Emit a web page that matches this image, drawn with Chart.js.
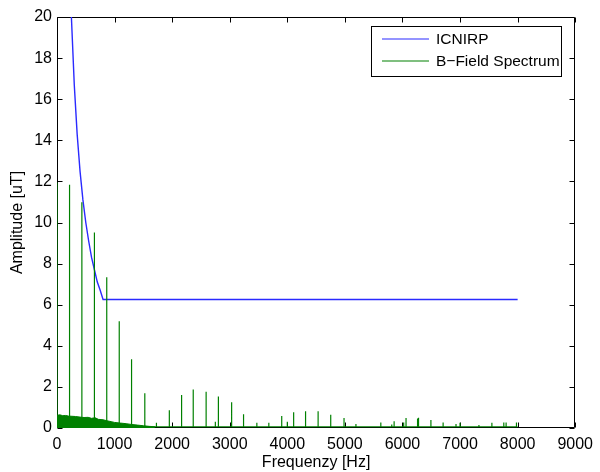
<!DOCTYPE html>
<html>
<head>
<meta charset="utf-8">
<script src="https://cdn.jsdelivr.net/npm/chart.js@4/dist/chart.umd.min.js"></script>
<style>
  html, body { margin: 0; padding: 0; background: #fff; }
  #wrap { width: 600px; height: 472px; }
</style>
</head>
<body>
<div id="wrap"><canvas id="spectrumChart"></canvas></div>
<script>
// ICNIRP reference level curve
const icnirpFreq = [245, 250, 300, 350, 400, 450, 500, 550, 600, 650, 700, 750, 800, 8000];
const icnirpAmp = [20.4, 20.0, 16.7, 14.3, 12.5, 11.1, 10.0, 9.1, 8.3, 7.7, 7.1, 6.7, 6.25, 6.25];

// B-field spectrum: harmonic peaks
const peakFreq = [0, 218, 432, 650, 864, 1081, 1295, 1525, 1727, 1951, 2164, 2366, 2590, 2750, 2803, 3033,
  3240, 3471, 3679, 3903, 4000, 4110, 4317, 4535, 4754, 4985, 5192, 5624, 5814, 5855, 6021, 6062,
  6262, 6279, 6494, 6706, 6930, 7000, 7328, 7553, 7760, 7800, 7980];
const peakAmp = [11.95, 11.84, 10.98, 9.51, 7.34, 5.2, 3.35, 1.69, 0.25, 0.86, 1.6, 1.87, 1.76, 0.3, 1.53, 1.25,
  0.67, 0.25, 0.25, 0.59, 0.3, 0.77, 0.81, 0.81, 0.64, 0.49, 0.2, 0.27, 0.17, 0.33, 0.27, 0.49,
  0.46, 0.5, 0.39, 0.27, 0.2, 0.25, 0.15, 0.25, 0.27, 0.27, 0.27];
const floorAmp = 0.06;
const spectrumEnd = 8000;

// low-frequency noise floor envelope
const noiseFreq = [0, 50, 100, 150, 200, 260, 320, 400, 470, 540, 600, 660, 720, 800, 870, 940, 1000, 1100, 1200, 1300, 1400, 1500, 1600, 1700];
const noiseAmp = [0.62, 0.64, 0.6, 0.61, 0.58, 0.57, 0.56, 0.53, 0.51, 0.52, 0.47, 0.5, 0.42, 0.4, 0.35, 0.31, 0.27, 0.24, 0.21, 0.17, 0.14, 0.11, 0.08, 0.06];

const xTicks = [0, 1000, 2000, 3000, 4000, 5000, 6000, 7000, 8000, 9000];
const yTicks = [0, 2, 4, 6, 8, 10, 12, 14, 16, 18, 20];

const BLUE = '#2a2aff';
const GREEN = '#008000';
const FONT = 'Liberation Sans, Arial, Helvetica, sans-serif';

const icnirpData = icnirpFreq.map((f, i) => ({ x: f, y: icnirpAmp[i] }));
const noiseData = noiseFreq.map((f, i) => ({ x: f, y: noiseAmp[i] }));
const spikeData = [];
peakFreq.forEach((f, i) => {
  spikeData.push({ x: f, y: floorAmp }, { x: f, y: peakAmp[i] }, { x: f, y: floorAmp });
});
spikeData.push({ x: spectrumEnd, y: floorAmp });

// MATLAB-style box with inward ticks on all four sides
const axesBox = {
  id: 'axesBox',
  beforeDatasetsDraw(chart) {
    const { ctx, chartArea: a, scales: { x, y } } = chart;
    const L = Math.round(a.left) + 0.5, R = Math.round(a.right) - 0.5;
    const T = Math.round(a.top) + 0.5, B = Math.round(a.bottom) - 0.5;
    ctx.save();
    ctx.strokeStyle = '#000';
    ctx.lineWidth = 1;
    ctx.beginPath();
    ctx.rect(L, T, R - L, B - T);
    xTicks.forEach(v => {
      const px = Math.round(x.getPixelForValue(v)) + 0.5;
      ctx.moveTo(px, B); ctx.lineTo(px, B - 5);
      ctx.moveTo(px, T); ctx.lineTo(px, T + 5);
    });
    yTicks.forEach(v => {
      const py = Math.round(y.getPixelForValue(v)) + 0.5;
      ctx.moveTo(L, py); ctx.lineTo(L + 5, py);
      ctx.moveTo(R, py); ctx.lineTo(R - 5, py);
    });
    ctx.stroke();
    ctx.restore();
  }
};

// boxed legend in the upper right corner
const boxLegend = {
  id: 'boxLegend',
  afterDraw(chart) {
    const { ctx, chartArea: a } = chart;
    const items = chart.data.datasets.filter(d => !d.hideInLegend);
    const w = 190, h = 50;
    const left = Math.round(a.right) - 14 - w, top = Math.round(a.top) + 9;
    ctx.save();
    ctx.fillStyle = '#fff';
    ctx.fillRect(left, top, w, h);
    ctx.strokeStyle = '#000';
    ctx.lineWidth = 1;
    ctx.strokeRect(left + 0.5, top + 0.5, w, h);
    ctx.font = '15.5px ' + FONT;
    ctx.textBaseline = 'middle';
    items.forEach((d, i) => {
      const cy = Math.round(top + 12.5 + i * 22.5);
      ctx.strokeStyle = d.borderColor;
      ctx.lineWidth = 1.2;
      ctx.beginPath();
      ctx.moveTo(left + 11, cy);
      ctx.lineTo(left + 58, cy);
      ctx.stroke();
      ctx.fillStyle = '#000';
      ctx.fillText(d.label, left + 65, cy + 0.5);
    });
    ctx.restore();
  }
};

new Chart(document.getElementById('spectrumChart'), {
  type: 'line',
  data: {
    datasets: [
      {
        label: 'ICNIRP',
        data: icnirpData,
        borderColor: BLUE,
        borderWidth: 1.4,
        pointRadius: 0,
        tension: 0,
        order: 3,
      },
      {
        label: 'B\u2212Field Spectrum',
        data: spikeData,
        borderColor: GREEN,
        borderWidth: 1.2,
        pointRadius: 0,
        tension: 0,
        order: 1,
      },
      {
        label: 'noise floor',
        hideInLegend: true,
        data: noiseData,
        borderColor: GREEN,
        backgroundColor: GREEN,
        borderWidth: 1,
        pointRadius: 0,
        tension: 0,
        fill: 'origin',
        order: 2,
      }
    ]
  },
  options: {
    responsive: true,
    maintainAspectRatio: false,
    animation: false,
    layout: { padding: { left: 0, right: 22, top: 17, bottom: 0 } },
    plugins: {
      legend: { display: false },
      tooltip: { enabled: false }
    },
    scales: {
      x: {
        type: 'linear',
        min: 0,
        max: 9000,
        afterBuildTicks: s => { s.ticks = xTicks.map(v => ({ value: v })); },
        afterFit: s => { s.height = 44; },
        grid: { display: false, drawTicks: false },
        border: { display: false },
        ticks: {
          autoSkip: false,
          maxRotation: 0,
          padding: 7,
          color: '#000',
          font: { family: FONT, size: 16 },
          callback: v => String(v)
        },
        title: {
          display: true,
          text: 'Frequenzy [Hz]',
          color: '#000',
          font: { family: FONT, size: 16 },
          padding: { top: 0, bottom: 0 }
        }
      },
      y: {
        min: 0,
        max: 20,
        afterBuildTicks: s => { s.ticks = yTicks.map(v => ({ value: v })); },
        afterFit: s => { s.width = 57; },
        grid: { display: false, drawTicks: false },
        border: { display: false },
        ticks: {
          padding: 5,
          color: '#000',
          font: { family: FONT, size: 16 },
          callback: v => String(v)
        },
        title: {
          display: true,
          text: 'Amplitude [uT]',
          color: '#000',
          font: { family: FONT, size: 16 },
          padding: { top: 8, bottom: 0 }
        }
      }
    }
  },
  plugins: [axesBox, boxLegend]
});
</script>
</body>
</html>
